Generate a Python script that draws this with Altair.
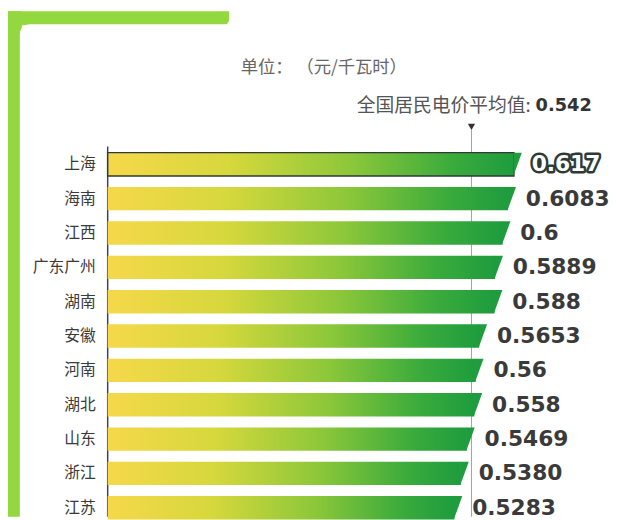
import altair as alt
import pandas as pd

# ---------------- data ----------------
provinces = ["上海", "海南", "江西", "广东广州", "湖南", "安徽", "河南", "湖北", "山东", "浙江", "江苏"]
values = [0.617, 0.6083, 0.6, 0.5889, 0.588, 0.5653, 0.56, 0.558, 0.5469, 0.5380, 0.5283]
value_labels = ["0.617", "0.6083", "0.6", "0.5889", "0.588", "0.5653", "0.56", "0.558", "0.5469", "0.5380", "0.5283"]
highlight = "上海"
national_avg = [0.542]
avg_text = ["全国居民电价平均值:"]
avg_value_text = ["0.542"]
unit_text = ["单位：  （元/千瓦时）"]

df = pd.DataFrame({"province": provinces, "value": values, "label": value_labels})
df["start"] = 0.0
avg_df = pd.DataFrame({"avg": national_avg, "t1": avg_text, "t2": avg_value_text})
zero_df = pd.DataFrame({"zero": [0.0]})
unit_df = pd.DataFrame({"t": unit_text})
one = pd.DataFrame({"a": [0]})

# ---------------- layout ----------------
W, H = 616, 512
PX_PER_UNIT = 680
X0 = 101
x_scale = alt.Scale(domain=[0, 0.75], range=[X0, X0 + 0.75 * PX_PER_UNIT])
STEP = 34.8
PI = 0.32
Y_TOP = 137.6
y_scale = alt.Scale(domain=provinces, range=[Y_TOP, Y_TOP + STEP * len(provinces)],
                    paddingInner=PI, paddingOuter=PI / 2, round=False)
BAR_H = STEP * (1 - PI)
SLANT = 8
tri_size = (BAR_H / 3) ** 2
unit = BAR_H / 6
sl = SLANT / unit + 0.15
tri_path = f"M{-sl:.3f},-3 L0,-3 L{-sl:.3f},3 Z"

GREEN_BG = "#93d83e"
END_GREEN = "#1e9c3e"
gradient = alt.Gradient(
    gradient="linear",
    stops=[
        alt.GradientStop(color="#f6d84a", offset=0),
        alt.GradientStop(color="#d6d83c", offset=0.3),
        alt.GradientStop(color="#8cc73a", offset=0.6),
        alt.GradientStop(color="#3aab3c", offset=0.85),
        alt.GradientStop(color=END_GREEN, offset=1),
    ],
    x1=0, x2=1, y1=0, y2=0,
)

X = lambda f: alt.X(f, type="quantitative", scale=x_scale, axis=None)
Y = alt.Y("province:N", scale=y_scale, axis=None, sort=provinces)

# ---------------- decoration ----------------
bg_left = alt.Chart(one).mark_rect(color=GREEN_BG).encode(
    x=alt.value(0), x2=alt.value(14), y=alt.value(0), y2=alt.value(H))
bg_top = alt.Chart(one).mark_rect(color=GREEN_BG, cornerRadiusBottomRight=6).encode(
    x=alt.value(0), x2=alt.value(224), y=alt.value(0), y2=alt.value(14))
card = alt.Chart(one).mark_rect(color="white", cornerRadius=10).encode(
    x=alt.value(12), x2=alt.value(680), y=alt.value(13), y2=alt.value(600))

# ---------------- chart ----------------
avg_rule = alt.Chart(avg_df).mark_rule(color="#a0a0a0", strokeWidth=1).encode(
    x=X("avg"), y=alt.value(120), y2=alt.value(H))
axis_rule = alt.Chart(zero_df).mark_rule(color="#444444", strokeWidth=1.5).encode(
    x=X("zero"), y=alt.value(137), y2=alt.value(H))

bars = alt.Chart(df).mark_bar(color=gradient, x2Offset=-SLANT).encode(
    x=X("start"), x2="value:Q", y=Y)
hl_border = alt.Chart(df).transform_filter(alt.datum.province == highlight).mark_bar(
    fillOpacity=0, stroke="#2e3a33", strokeWidth=1.5, x2Offset=-SLANT).encode(
    x=X("start"), x2="value:Q", y=Y)
tris = alt.Chart(df).mark_point(shape=tri_path, size=tri_size, filled=True, color=END_GREEN,
                                opacity=1, strokeWidth=0).encode(x=X("value"), y=Y)

num_font = dict(font="DejaVu Sans", fontWeight="bold", fontSize=22, align="left", baseline="middle", dx=10)
val_labels = alt.Chart(df).transform_filter(alt.datum.province != highlight).mark_text(
    color="#3a3a3a", **num_font).encode(x=X("value"), y=Y, text="label:N")
hl_outline = alt.Chart(df).transform_filter(alt.datum.province == highlight).mark_text(
    color="#2c3b38", stroke="#2c3b38", strokeWidth=5, strokeJoin="round", **num_font).encode(
    x=X("value"), y=Y, text="label:N")
hl_label = alt.Chart(df).transform_filter(alt.datum.province == highlight).mark_text(
    color="white", **num_font).encode(x=X("value"), y=Y, text="label:N")

cat_labels = alt.Chart(df).mark_text(align="right", baseline="middle", dx=-12,
                                     font="Noto Sans CJK SC", fontSize=16, color="#3a3a3a").encode(
    x=X("start"), y=Y, text="province:N")

avg_marker = alt.Chart(avg_df).mark_point(shape="triangle-down", filled=True, size=55,
                                          color="#333333", opacity=1).encode(
    x=X("avg"), y=alt.value(117))
avg_t1 = alt.Chart(avg_df).mark_text(align="right", baseline="middle", dx=60,
                                     font="Noto Sans CJK SC", fontSize=19, color="#555555").encode(
    x=X("avg"), y=alt.value(96), text="t1:N")
avg_t2 = alt.Chart(avg_df).mark_text(align="left", baseline="middle", dx=65,
                                     font="DejaVu Sans", fontWeight="bold", fontSize=18,
                                     color="#333333").encode(
    x=X("avg"), y=alt.value(96), text="t2:N")
unit_lbl = alt.Chart(unit_df).mark_text(align="center", baseline="middle",
                                        font="Noto Sans CJK SC", fontSize=17.5, color="#666666").encode(
    x=alt.value(320), y=alt.value(57), text="t:N")

chart = alt.layer(
    bg_left, bg_top, card, avg_rule, axis_rule, bars, hl_border, tris,
    val_labels, hl_outline, hl_label, cat_labels, avg_marker, avg_t1, avg_t2, unit_lbl,
).properties(
    width=W, height=H, autosize=alt.AutoSizeParams(type="none"), padding=0, background="white"
).configure_view(strokeWidth=0)

chart.save("out.html", embed_options={"renderer": "svg", "actions": False})
